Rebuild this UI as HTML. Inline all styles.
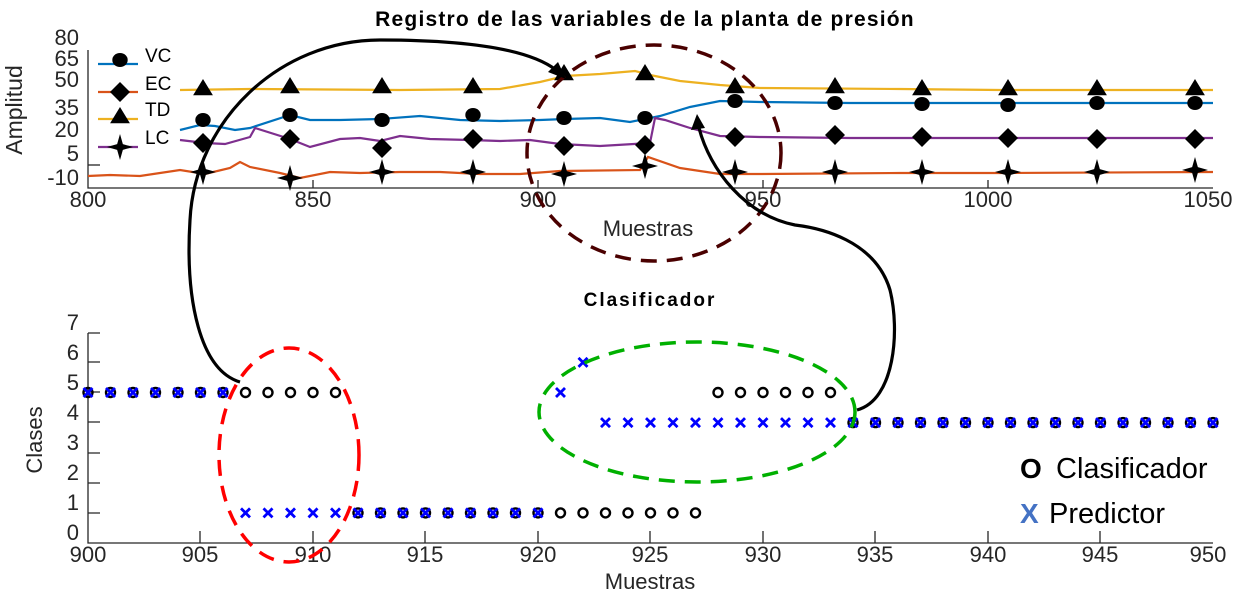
<!DOCTYPE html>
<html><head><meta charset="utf-8"><style>
html,body{margin:0;padding:0;background:#fff;width:1236px;height:597px;overflow:hidden}
text{font-family:"Liberation Sans",sans-serif}
</style></head><body>
<svg id="s" width="1236" height="597" viewBox="0 0 1236 597" xmlns="http://www.w3.org/2000/svg">
<text x="645" y="26" font-size="21" font-weight="bold" text-anchor="middle" letter-spacing="1.2">Registro de las variables de la planta de presión</text>
<!-- top axes -->
<g stroke="#262626" stroke-width="1.3" fill="none">
<path d="M88,50 V188 H1213"/>
<path d="M88,165 H100"/>
<path d="M313,188 V180 M538,188 V180 M763,188 V180 M988,188 V180"/>
</g>
<g font-size="22" fill="#262626" text-anchor="end">
<text x="79" y="45">80</text><text x="79" y="66">65</text><text x="79" y="87">50</text>
<text x="79" y="115">35</text><text x="79" y="137">20</text><text x="79" y="161">5</text>
<text x="79" y="185">-10</text>
</g>
<g font-size="22" fill="#262626" text-anchor="middle">
<text x="88" y="207">800</text><text x="313" y="207">850</text><text x="538" y="207">900</text>
<text x="763" y="207">950</text><text x="988" y="207">1000</text><text x="1208" y="207">1050</text>
<text x="648" y="236">Muestras</text>
</g>
<text transform="translate(22,110) rotate(-90)" font-size="23" fill="#262626" text-anchor="middle">Amplitud</text>
<!-- series -->
<g fill="none" stroke-width="2.2">
<path stroke="#EDB120" d="M180,90 L250,89 L400,90 L500,89 L540,82 L565,76 L600,74 L635,71 L650,75 L680,81 L720,85 L760,88 L900,89 L1000,90 L1213,90"/>
<path stroke="#0072BD" d="M180,130 L200,125 L215,126 L235,130 L250,128 L290,115 L310,120 L340,120 L380,119 L420,116 L460,120 L500,121 L540,120 L565,119 L600,118 L630,122 L660,116 L690,107 L720,101 L760,102 L850,103 L1000,103 L1213,103"/>
<path stroke="#7E2F8E" d="M180,140 L205,143 L225,144 L250,137 L255,128 L290,139 L310,147 L340,139 L360,138 L380,141 L400,136 L430,139 L470,140 L500,141 L530,140 L560,144 L600,146 L650,143 L655,118 L665,120 L690,128 L720,136 L760,137 L850,138 L1000,138 L1213,138"/>
<path stroke="#D95319" d="M88,176 L110,175 L140,176 L180,170 L205,174 L230,168 L240,162 L250,167 L280,173 L300,178 L330,172 L360,173 L400,172 L440,172 L480,174 L520,174 L560,171 L640,170 L648,157 L680,168 L720,174 L760,174 L900,173 L1000,173 L1213,172"/>
</g>
<g id="mk"></g>
<!-- legend -->
<g stroke-width="2.2">
<line x1="98" y1="64" x2="138" y2="64" stroke="#0072BD"/>
<line x1="98" y1="92" x2="138" y2="92" stroke="#D95319"/>
<line x1="98" y1="119" x2="138" y2="119" stroke="#EDB120"/>
<line x1="98" y1="147" x2="138" y2="147" stroke="#7E2F8E"/>
</g>
<g font-size="19" fill="#000">
<text x="145" y="62">VC</text><text x="145" y="90">EC</text><text x="145" y="116">TD</text><text x="145" y="144">LC</text>
</g>
<g id="lg"></g>
<!-- bottom axes -->
<text x="650" y="306" font-size="19" font-weight="bold" text-anchor="middle" letter-spacing="2">Clasificador</text>
<g stroke="#262626" stroke-width="1.3" fill="none">
<path d="M88,333 V543 H1213"/>
<path d="M88,333 H100 M88,362 H100 M88,392 H100 M88,422 H100 M88,453 H100 M88,483 H100 M88,513 H100"/>
<path d="M200,543 V531 M313,543 V531 M425,543 V531 M538,543 V531 M650,543 V531 M763,543 V531 M875,543 V531 M988,543 V531 M1100,543 V531"/>
</g>
<g font-size="22" fill="#262626" text-anchor="end">
<text x="79" y="330">7</text><text x="79" y="360">6</text><text x="79" y="390">5</text><text x="79" y="420">4</text>
<text x="79" y="450">3</text><text x="79" y="480">2</text><text x="79" y="510">1</text><text x="79" y="540">0</text>
</g>
<g font-size="22" fill="#262626" text-anchor="middle">
<text x="88" y="562">900</text><text x="200" y="562">905</text><text x="313" y="562">910</text><text x="425" y="562">915</text>
<text x="538" y="562">920</text><text x="650" y="562">925</text><text x="763" y="562">930</text><text x="875" y="562">935</text>
<text x="988" y="562">940</text><text x="1100" y="562">945</text><text x="1208" y="562">950</text>
<text x="650" y="589">Muestras</text>
</g>
<text transform="translate(42,440) rotate(-90)" font-size="22" fill="#262626" text-anchor="middle">Clases</text>
<g id="bm"></g>
<!-- ellipses -->
<g fill="none" stroke-width="3.5" stroke-dasharray="16,10">
<ellipse cx="289" cy="455" rx="70" ry="107" stroke="#ff0000"/>
<ellipse cx="697" cy="412" rx="158" ry="70" stroke="#00b000"/>
<ellipse cx="654" cy="153" rx="127" ry="108" stroke="#4a0000"/>
</g>
<!-- connectors -->
<g fill="none" stroke="#000" stroke-width="3.2">
<path d="M240,382 C200,370 185,300 190,220 C195,120 280,40 380,40 C470,40 530,50 556,70"/>
<path d="M857,410 C895,400 900,330 890,290 C875,240 820,228 795,225 C745,215 710,170 699,128"/>
</g>
<path d="M566,79 L548,72 L558,62 Z" fill="#000"/>
<path d="M697,114 L691,130 L705,128 Z" fill="#000"/>
<!-- bottom legend -->
<text x="1020" y="478" font-size="28" font-weight="bold" fill="#000">O</text>
<text x="1056" y="478" font-size="29" fill="#000">Clasificador</text>
<text x="1020" y="523" font-size="28" font-weight="bold" fill="#4472C4">X</text>
<text x="1049" y="523" font-size="29" fill="#000">Predictor</text>
</svg>
<script>
var NS="http://www.w3.org/2000/svg";
function el(p,t,a){var e=document.createElementNS(NS,t);for(var k in a)e.setAttribute(k,a[k]);p.appendChild(e);return e;}
function tri(g,x,y,s){el(g,"path",{d:"M"+x+","+(y-s)+" L"+(x+s*1.1)+","+(y+s*0.8)+" L"+(x-s*1.1)+","+(y+s*0.8)+"Z",fill:"#000"});}
function dia(g,x,y,s){el(g,"path",{d:"M"+x+","+(y-s)+" L"+(x+s)+","+y+" L"+x+","+(y+s)+" L"+(x-s)+","+y+"Z",fill:"#000"});}
function cir(g,x,y,r){el(g,"ellipse",{cx:x,cy:y,rx:r*1.1,ry:r,fill:"#000"});}
function star(g,x,y,s){var w=s*0.22;el(g,"path",{d:"M"+x+","+(y-s)+" L"+(x+w)+","+(y-w)+" L"+(x+s)+","+y+" L"+(x+w)+","+(y+w)+" L"+x+","+(y+s)+" L"+(x-w)+","+(y+w)+" L"+(x-s)+","+y+" L"+(x-w)+","+(y-w)+"Z",fill:"#000"});}
var mk=document.getElementById("mk");
var xs=[203,290,382,473,564,645,735,835,922,1008,1097,1195];
var tY=[88,86,86,86,73,73,86,86,88,88,88,88];
var cY=[120,115,120,115,118,118,101,103,104,105,103,103];
var dY=[143,139,148,139,146,145,137,135,137,138,139,139];
var sY=[172,178,172,172,174,166,172,172,172,172,172,170];
for(var i=0;i<xs.length;i++){tri(mk,xs[i],tY[i],9);cir(mk,xs[i],cY[i],7);dia(mk,xs[i],dY[i],10);star(mk,xs[i],sY[i],13);}
var lg=document.getElementById("lg");
cir(lg,120,60,7);dia(lg,120,92,10);tri(lg,120,116,9);star(lg,120,147,13);
var bm=document.getElementById("bm");
function X(n){return 88+(n-900)*22.5;}function Y(c){return 543-c*30.1;}
function o(n,c){el(bm,"circle",{cx:X(n),cy:Y(c),r:4.5,fill:"none",stroke:"#000","stroke-width":2.4});}
function x(n,c){var a=X(n),b=Y(c),s=4.5;el(bm,"path",{d:"M"+(a-s)+","+(b-s)+" L"+(a+s)+","+(b+s)+" M"+(a+s)+","+(b-s)+" L"+(a-s)+","+(b+s),stroke:"#0000ff","stroke-width":2.8});}
for(var n=900;n<=950;n++){
 var cc=n<=911?5:(n<=927?1:(n<=933?5:4));
 o(n,cc);
 var pc=n<=906?5:(n<=920?1:(n==921?5:(n==922?6:4)));
 x(n,pc);
}
</script>
</body></html>
